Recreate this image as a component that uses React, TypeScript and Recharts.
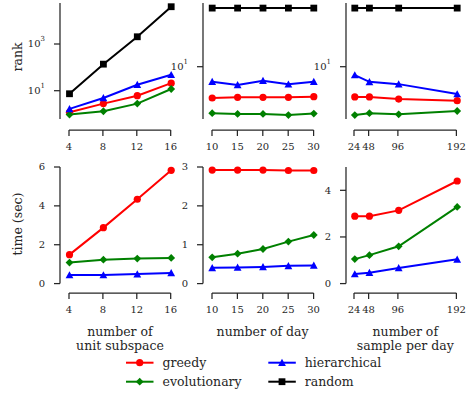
import React from 'react';
import { LineChart, Line, XAxis, YAxis } from 'recharts';

const FONT = "'DejaVu Serif', 'Liberation Serif', serif";
const INK = '#262626';

// ---- categories / tick labels ----
const subspaceCounts = [4, 8, 12, 16];
const dayCounts = [10, 15, 20, 25, 30];
const samplesPerDay = [24, 48, 96, 192];

const rankTicksSub = [10, 1000];
const rankTicksOther = [10];
const timeTicksSub = [0, 2, 4, 6];
const timeTicksDay = [0, 1, 2, 3];
const timeTicksSample = [0, 2, 4];

// ---- rank (log scale) ----
const rankSubGreedy = [1.19, 2.8, 6.1, 21];
const rankSubEvolutionary = [0.95, 1.32, 2.8, 11.8];
const rankSubHierarchical = [1.66, 4.9, 18, 48];
const rankSubRandom = [7.4, 137, 2040, 39500];

const rankDayGreedy = [2.48, 2.56, 2.56, 2.56, 2.63];
const rankDayEvolutionary = [1.26, 1.22, 1.22, 1.16, 1.24];
const rankDayHierarchical = [5.13, 4.43, 5.36, 4.57, 5.13];
const rankDayRandom = [136, 136, 136, 136, 136];

const rankSampleGreedy = [2.6, 2.6, 2.37, 2.2];
const rankSampleEvolutionary = [1.16, 1.26, 1.2, 1.39];
const rankSampleHierarchical = [6.9, 5.1, 4.6, 2.96];
const rankSampleRandom = [136, 136, 136, 136];

// ---- time (sec) ----
const timeSubGreedy = [1.49, 2.88, 4.34, 5.83];
const timeSubEvolutionary = [1.08, 1.23, 1.29, 1.32];
const timeSubHierarchical = [0.44, 0.44, 0.49, 0.55];

const timeDayGreedy = [2.92, 2.92, 2.92, 2.91, 2.91];
const timeDayEvolutionary = [0.675, 0.77, 0.89, 1.08, 1.25];
const timeDayHierarchical = [0.405, 0.415, 0.43, 0.457, 0.467];

const timeSampleGreedy = [2.89, 2.89, 3.14, 4.4];
const timeSampleEvolutionary = [1.05, 1.22, 1.6, 3.29];
const timeSampleHierarchical = [0.41, 0.47, 0.67, 1.04];

type SeriesDef = { key: string; label: string; color: string; shape: string };
const SERIES: SeriesDef[] = [
  { key: 'greedy', label: 'greedy', color: '#ff0000', shape: 'circle' },
  { key: 'evolutionary', label: 'evolutionary', color: '#008000', shape: 'diamond' },
  { key: 'hierarchical', label: 'hierarchical', color: '#0000ff', shape: 'triangle' },
  { key: 'random', label: 'random', color: '#000000', shape: 'square' },
];

function buildRows(cats: number[], cols: Record<string, number[]>) {
  return cats.map((x, i) => {
    const row: any = { x };
    Object.keys(cols).forEach((k) => {
      row[k] = cols[k][i];
    });
    return row;
  });
}

const rankSubData = buildRows(subspaceCounts, {
  greedy: rankSubGreedy, evolutionary: rankSubEvolutionary, hierarchical: rankSubHierarchical, random: rankSubRandom,
});
const rankDayData = buildRows(dayCounts, {
  greedy: rankDayGreedy, evolutionary: rankDayEvolutionary, hierarchical: rankDayHierarchical, random: rankDayRandom,
});
const rankSampleData = buildRows(samplesPerDay, {
  greedy: rankSampleGreedy, evolutionary: rankSampleEvolutionary, hierarchical: rankSampleHierarchical, random: rankSampleRandom,
});
const timeSubData = buildRows(subspaceCounts, {
  greedy: timeSubGreedy, evolutionary: timeSubEvolutionary, hierarchical: timeSubHierarchical,
});
const timeDayData = buildRows(dayCounts, {
  greedy: timeDayGreedy, evolutionary: timeDayEvolutionary, hierarchical: timeDayHierarchical,
});
const timeSampleData = buildRows(samplesPerDay, {
  greedy: timeSampleGreedy, evolutionary: timeSampleEvolutionary, hierarchical: timeSampleHierarchical,
});

function Marker({ cx, cy, shape, color }: { cx?: number; cy?: number; shape: string; color: string }) {
  if (cx == null || cy == null || isNaN(cx) || isNaN(cy)) return null;
  if (shape === 'circle') return <circle cx={cx} cy={cy} r={3.6} fill={color} />;
  if (shape === 'diamond') {
    const h = 3.9;
    return <polygon points={`${cx},${cy - h} ${cx + h},${cy} ${cx},${cy + h} ${cx - h},${cy}`} fill={color} />;
  }
  if (shape === 'triangle') {
    const h = 3.9;
    return <polygon points={`${cx},${cy - h} ${cx + h},${cy + h * 0.85} ${cx - h},${cy + h * 0.85}`} fill={color} />;
  }
  const h = 3.4;
  return <rect x={cx - h} y={cy - h} width={2 * h} height={2 * h} fill={color} />;
}

const LinearYTick = (props: any) => {
  const { x, y, payload } = props;
  return (
    <text x={x} y={y} textAnchor="end" dominantBaseline="central" fontFamily={FONT} fontSize={10} fill={INK}>
      {payload.value}
    </text>
  );
};

const LogYTick = (props: any) => {
  const { x, y, payload } = props;
  const exp = Math.round(Math.log10(payload.value));
  return (
    <text x={x} y={y} textAnchor="end" dominantBaseline="central" fontFamily={FONT} fontSize={10} fill={INK}>
      10
      <tspan dy={-4.5} fontSize={7}>{exp}</tspan>
    </text>
  );
};

const XTick = (props: any) => {
  const { x, y, payload } = props;
  return (
    <text x={x} y={y} dy="0.71em" textAnchor="middle" fontFamily={FONT} fontSize={10} fill={INK}>
      {payload.value}
    </text>
  );
};

type Geo = { spineX: number; L: number; R: number; axTop: number; axBot: number; spineY: number; xmin: number; xmax: number };

const COLS = [
  { spineX: 59.5, L: 69, R: 170.7, xmin: 4, xmax: 16 },
  { spineX: 202.5, L: 211.7, R: 313.3, xmin: 10, xmax: 30 },
  { spineX: 345.5, L: 354.3, R: 456.7, xmin: 24, xmax: 192 },
];
const ROWS = [
  { axTop: 3, axBot: 119, spineY: 129.5 },
  { axTop: 166.7, axBot: 283.3, spineY: 293.3 },
];

const Y_W = 50;
const PAD = 12;

function Panel({
  geo, data, yDomain, yTicks, logY, xTicks,
}: { geo: Geo; data: any[]; yDomain: [number, number]; yTicks: number[]; logY: boolean; xTicks: number[] }) {
  const ppu = (geo.R - geo.L) / (geo.xmax - geo.xmin);
  const x0 = geo.xmin - (geo.L - geo.spineX) / ppu;
  const plotW = geo.R - geo.spineX;
  const plotH = geo.axBot - geo.axTop;
  const keys = SERIES.filter((s) => data[0][s.key] !== undefined);
  return (
    <>
      <div style={{ position: 'absolute', left: geo.spineX - Y_W, top: geo.axTop - PAD }}>
        <LineChart
          width={Y_W + plotW + PAD}
          height={plotH + 2 * PAD}
          data={data}
          margin={{ top: PAD, right: PAD, bottom: PAD, left: 0 }}
        >
          <XAxis dataKey="x" type="number" domain={[x0, geo.xmax]} hide />
          <YAxis
            type="number"
            scale={logY ? 'log' : 'linear'}
            domain={yDomain}
            ticks={yTicks}
            interval={0}
            width={Y_W}
            tickSize={6}
            tickMargin={9}
            axisLine={{ stroke: INK, strokeWidth: 1.25 }}
            tickLine={{ stroke: INK, strokeWidth: 1.25 }}
            tick={logY ? <LogYTick /> : <LinearYTick />}
          />
          {keys.map((s) => (
            <Line
              key={s.key}
              type="linear"
              dataKey={s.key}
              stroke={s.color}
              strokeWidth={2}
              isAnimationActive={false}
              activeDot={false}
              dot={(p: any) => (
                <Marker key={`${s.key}-${p.index}`} cx={p.cx} cy={p.cy} shape={s.shape} color={s.color} />
              )}
            />
          ))}
        </LineChart>
      </div>
      <div style={{ position: 'absolute', left: geo.L - 20, top: geo.spineY - 10 }}>
        <LineChart
          width={geo.R - geo.L + 40}
          height={40}
          data={data}
          margin={{ top: 0, right: 20, bottom: 0, left: 20 }}
        >
          <XAxis
            dataKey="x"
            type="number"
            domain={[geo.xmin, geo.xmax]}
            ticks={xTicks}
            interval={0}
            height={30}
            tickSize={6}
            tickMargin={7}
            axisLine={{ stroke: INK, strokeWidth: 1.25 }}
            tickLine={{ stroke: INK, strokeWidth: 1.25 }}
            tick={<XTick />}
          />
          <YAxis hide />
          <Line dataKey="greedy" stroke="none" dot={false} activeDot={false} isAnimationActive={false} />
        </LineChart>
      </div>
    </>
  );
}

function g(c: number, r: number): Geo {
  return { ...COLS[c], ...ROWS[r] };
}

const LEGEND = [
  { s: SERIES[0], lx: 126, ly: 362.7 },
  { s: SERIES[1], lx: 126, ly: 381.7 },
  { s: SERIES[2], lx: 268.3, ly: 362.7 },
  { s: SERIES[3], lx: 268.3, ly: 381.7 },
];

export default function App() {
  return (
    <div style={{ position: 'absolute', left: 0, top: 0, width: 472, height: 394, background: '#fff', overflow: 'hidden' }}>
      <Panel geo={g(0, 0)} data={rankSubData} yDomain={[0.614, 57000]} yTicks={rankTicksSub} logY xTicks={subspaceCounts} />
      <Panel geo={g(1, 0)} data={rankDayData} yDomain={[0.974, 170.6]} yTicks={rankTicksOther} logY xTicks={dayCounts} />
      <Panel geo={g(2, 0)} data={rankSampleData} yDomain={[0.974, 170.6]} yTicks={rankTicksOther} logY xTicks={samplesPerDay} />
      <Panel geo={g(0, 1)} data={timeSubData} yDomain={[0, 6]} yTicks={timeTicksSub} logY={false} xTicks={subspaceCounts} />
      <Panel geo={g(1, 1)} data={timeDayData} yDomain={[0, 3]} yTicks={timeTicksDay} logY={false} xTicks={dayCounts} />
      <Panel geo={g(2, 1)} data={timeSampleData} yDomain={[0, 5]} yTicks={timeTicksSample} logY={false} xTicks={samplesPerDay} />
      <svg width={472} height={394} style={{ position: 'absolute', left: 0, top: 0, pointerEvents: 'none' }}>
        <g fontFamily={FONT} fontSize={12.5} fill={INK}>
          <text x={17.5} y={57} textAnchor="middle" dominantBaseline="central" transform="rotate(-90 17.5 57)">rank</text>
          <text x={17} y={224} textAnchor="middle" dominantBaseline="central" transform="rotate(-90 17 224)">time (sec)</text>
          <text x={120} y={331.7} textAnchor="middle" dominantBaseline="central">number of</text>
          <text x={120} y={345.7} textAnchor="middle" dominantBaseline="central">unit subspace</text>
          <text x={262.6} y={331.7} textAnchor="middle" dominantBaseline="central">number of day</text>
          <text x={405.3} y={331.7} textAnchor="middle" dominantBaseline="central">number of</text>
          <text x={405.3} y={345.7} textAnchor="middle" dominantBaseline="central">sample per day</text>
          {LEGEND.map(({ s, lx, ly }) => (
            <g key={s.key}>
              <line x1={lx} y1={ly} x2={lx + 27.5} y2={ly} stroke={s.color} strokeWidth={2} />
              <Marker cx={lx + 13.7} cy={ly} shape={s.shape} color={s.color} />
              <text x={lx + 36.5} y={ly} dominantBaseline="central">{s.label}</text>
            </g>
          ))}
        </g>
      </svg>
    </div>
  );
}
